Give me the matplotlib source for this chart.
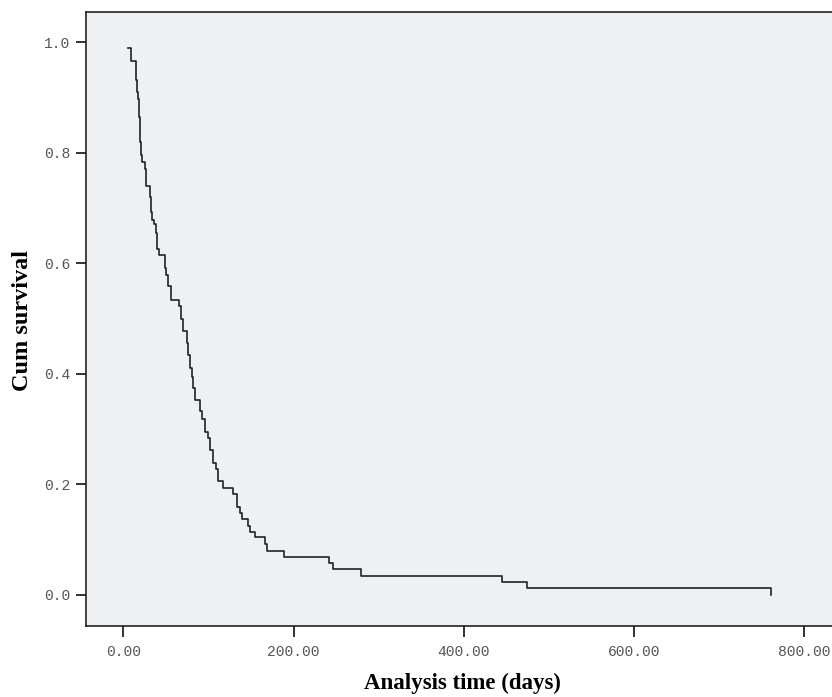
import matplotlib
matplotlib.use("Agg")
import matplotlib.pyplot as plt

# Kaplan-Meier steps: time (days) and survival after the drop
times = [5.0, 9.4, 14.5, 15.6, 16.8, 18.8, 19.5, 20.5, 21.6, 25.1, 26.7, 31.4,
         32.6, 34.1, 35.7, 38.0, 39.2, 42.3, 48.6, 50.2, 52.2, 56.0, 65.8,
         67.8, 69.8, 74.5, 76.4, 78.4, 80.4, 82.3, 84.6, 90.1, 92.0, 96.0,
         99.1, 101.9, 105.0, 108.6, 111.6, 116.8, 128.5, 134.0, 137.1, 139.1,
         146.2, 148.9, 154.8, 166.5, 168.5, 189.2, 242.0, 246.8, 279.3, 445.4,
         474.0, 761.0]
survival = [0.989, 0.966, 0.932, 0.910, 0.897, 0.864, 0.820, 0.796, 0.784,
            0.770, 0.739, 0.720, 0.693, 0.678, 0.671, 0.655, 0.625, 0.615,
            0.591, 0.579, 0.558, 0.533, 0.523, 0.500, 0.478, 0.455, 0.434,
            0.411, 0.395, 0.374, 0.352, 0.332, 0.318, 0.295, 0.284, 0.262,
            0.239, 0.228, 0.205, 0.193, 0.182, 0.159, 0.148, 0.137, 0.124,
            0.114, 0.104, 0.092, 0.080, 0.069, 0.057, 0.046, 0.034, 0.023,
            0.0116, 0.0]

x_ticks = [0, 200, 400, 600, 800]
y_ticks = [0.0, 0.2, 0.4, 0.6, 0.8, 1.0]

fig = plt.figure(figsize=(8.32, 6.97), dpi=100)
ax = fig.add_axes([85.7 / 832, (697 - 625.7) / 697, (834 - 85.7) / 832, (625.7 - 12.3) / 697])
ax.set_facecolor("#eff0f2")

ax.step(times, survival, where="post", color="#222222", linewidth=1.2)

ax.set_xlim(-44.2, 835)
ax.set_ylim(-0.0561, 1.0543)

ax.set_xticks(x_ticks)
ax.set_xticklabels([f"{t:.2f}" for t in x_ticks])
ax.set_yticks(y_ticks)
ax.set_yticklabels([f"{t:.1f}" for t in y_ticks])

for lab in ax.get_xticklabels() + ax.get_yticklabels():
    lab.set_family("Liberation Mono")
    lab.set_fontsize(10.5)
    lab.set_color("#555555")

ax.tick_params(axis="x", direction="out", length=8, width=1.3, pad=6, color="#222222")
ax.tick_params(axis="y", direction="out", length=7.5, width=1.3, pad=3.5, color="#222222")

for side in ax.spines.values():
    side.set_color("#222222")
    side.set_linewidth(1.2)

ax.set_xlabel("Analysis time (days)", family="Liberation Serif", fontweight="bold", fontsize=16.5)
ax.set_ylabel("Cum survival", family="Liberation Serif", fontweight="bold", fontsize=17.5)
ax.xaxis.set_label_coords(0.504, -0.077)
ax.yaxis.set_label_coords(-0.0704, 0.498)

fig.savefig("out.png", dpi=100)
